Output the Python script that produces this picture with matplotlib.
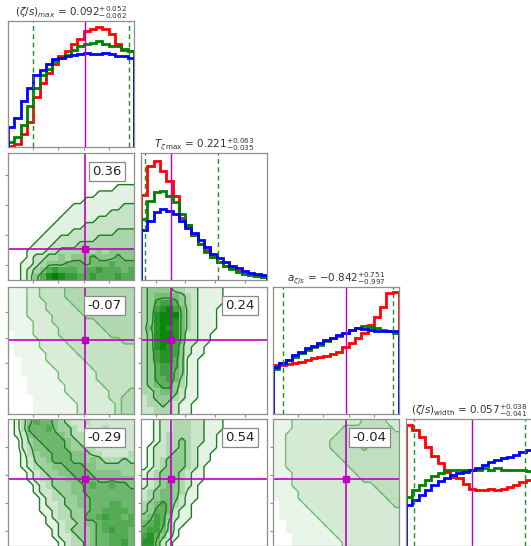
import numpy as np
import matplotlib
matplotlib.use("Agg")
import matplotlib.pyplot as plt
from matplotlib.colors import LinearSegmentedColormap

# ---------------- data ----------------
titles = [r"$(\zeta/s)_{max}$ = $0.092^{+0.052}_{-0.062}$",
          r"$T_{\zeta\,\mathrm{max}}$ = $0.221^{+0.063}_{-0.035}$",
          r"$a_{\zeta/s}$ = $-0.842^{+0.751}_{-0.997}$",
          r"$(\zeta/s)_{\mathrm{width}}$ = $0.057^{+0.038}_{-0.041}$"]
param_ranges = [(0.0, 0.15), (0.18, 0.35), (-2.0, 0.0), (0.01, 0.10)]
medians = [0.092, 0.221, -0.842, 0.057]
err_plus = [0.052, 0.063, 0.751, 0.038]
err_minus = [0.062, 0.035, 0.997, 0.041]
tick_values = [[0.03, 0.06, 0.09, 0.12],
               [0.20, 0.24, 0.28, 0.32],
               [-1.6, -1.2, -0.8, -0.4],
               [0.02, 0.04, 0.06, 0.08]]

# 1D marginal histograms (20 bins, heights as fraction of panel height)
red_zeta_max = [0.01, 0.03, 0.11, 0.20, 0.40, 0.51, 0.59, 0.66, 0.72, 0.76,
                0.82, 0.86, 0.92, 0.94, 0.955, 0.94, 0.90, 0.82, 0.77, 0.76]
green_zeta_max = [0.045, 0.08, 0.18, 0.33, 0.47, 0.57, 0.62, 0.68, 0.71, 0.73,
                  0.77, 0.80, 0.82, 0.83, 0.84, 0.82, 0.80, 0.80, 0.78, 0.76]
blue_zeta_max = [0.16, 0.23, 0.37, 0.47, 0.57, 0.61, 0.66, 0.70, 0.71, 0.72,
                 0.73, 0.74, 0.75, 0.74, 0.74, 0.75, 0.74, 0.72, 0.72, 0.71]

red_T = [0.67, 0.90, 0.94, 0.86, 0.78, 0.66, 0.49, 0.43, 0.35, 0.28,
         0.23, 0.18, 0.14, 0.11, 0.09, 0.065, 0.047, 0.034, 0.026, 0.02]
green_T = [0.48, 0.62, 0.69, 0.70, 0.66, 0.61, 0.52, 0.43, 0.35, 0.28,
           0.22, 0.18, 0.14, 0.11, 0.08, 0.06, 0.045, 0.034, 0.026, 0.02]
blue_T = [0.39, 0.46, 0.53, 0.56, 0.54, 0.52, 0.46, 0.41, 0.37, 0.31,
          0.26, 0.20, 0.17, 0.14, 0.11, 0.09, 0.07, 0.055, 0.04, 0.034]

red_a = [0.38, 0.385, 0.39, 0.40, 0.41, 0.425, 0.435, 0.445, 0.455, 0.47,
         0.49, 0.525, 0.556, 0.596, 0.635, 0.70, 0.766, 0.845, 0.95, 0.96]
green_a = [0.35, 0.40, 0.425, 0.45, 0.48, 0.50, 0.525, 0.54, 0.57, 0.596,
           0.614, 0.64, 0.66, 0.675, 0.69, 0.68, 0.675, 0.66, 0.65, 0.635]
blue_a = [0.37, 0.40, 0.425, 0.465, 0.49, 0.52, 0.535, 0.556, 0.58, 0.60,
          0.62, 0.635, 0.66, 0.675, 0.667, 0.66, 0.656, 0.656, 0.656, 0.65]

red_width = [0.95, 0.91, 0.86, 0.78, 0.71, 0.65, 0.58, 0.54, 0.53, 0.49,
             0.45, 0.44, 0.44, 0.444, 0.44, 0.45, 0.46, 0.48, 0.50, 0.52]
green_width = [0.38, 0.44, 0.476, 0.516, 0.55, 0.574, 0.595, 0.60, 0.60, 0.595,
               0.595, 0.595, 0.61, 0.60, 0.61, 0.60, 0.60, 0.595, 0.595, 0.59]
blue_width = [0.317, 0.357, 0.397, 0.437, 0.476, 0.51, 0.537, 0.556, 0.57, 0.58,
              0.595, 0.616, 0.635, 0.66, 0.675, 0.69, 0.70, 0.714, 0.74, 0.754]

hists = [(red_zeta_max, green_zeta_max, blue_zeta_max),
         (red_T, green_T, blue_T),
         (red_a, green_a, blue_a),
         (red_width, green_width, blue_width)]

# correlation coefficients of the 2D panels
correlations = {(1, 0): "0.36", (2, 0): "-0.07", (2, 1): "0.24",
                (3, 0): "-0.29", (3, 1): "0.54", (3, 2): "-0.04"}

# 2D density (20x20 bins, level 0-9), rows listed from top (high y) to bottom
dens_10 = [
    "00000000000000000000",
    "00000000000000000000",
    "00000000000000000000",
    "00000000000000000000",
    "00000000000000000000",
    "00000000000000000111",
    "00000000000000111111",
    "00000000000011111111",
    "00000000001111111122",
    "00000000011111112222",
    "00000000111111222222",
    "00000001111122222222",
    "00000011112222222333",
    "00000111222222333333",
    "00001112222333333333",
    "00011122333343434444",
    "00012233434445444544",
    "00112344455545556555",
    "00123467666566766656",
    "00124689877667666766"]
dens_20 = [
    "11122333344444444444",
    "11122333344444444444",
    "11122233334444444444",
    "11122233333444444444",
    "11122223333344444444",
    "11112223333333444444",
    "11112222333333344444",
    "01112222333333334444",
    "01111222233333333344",
    "01111222223333333333",
    "01111122222333333333",
    "00111122222233333333",
    "00111112222223333333",
    "00111111222222333333",
    "00011111222222333333",
    "00011111122222233333",
    "00011111122222223334",
    "00001111112222223344",
    "00001111111222222344",
    "00001111111222222344"]
dens_21 = [
    "34444332211110000000",
    "34555543211110000000",
    "34677643211110000000",
    "34789753211100000000",
    "34899953211100000000",
    "34899853211100000000",
    "35898853211100000000",
    "34899852211000000000",
    "34899752211000000000",
    "34898742110000000000",
    "34788742110000000000",
    "34788641100000000000",
    "34677641100000000000",
    "34677541100000000000",
    "34667531100000000000",
    "34566431100000000000",
    "33455421100000000000",
    "23444321100000000000",
    "23343211000000000000",
    "22333211000000000000"]
dens_30 = [
    "01357665432232222222",
    "01366675443222232222",
    "01256666543322222222",
    "00245666654332222222",
    "00235566654433222222",
    "00134556665543322223",
    "00124456665545433343",
    "00123445566655444444",
    "00012344556665555544",
    "00012334455666555555",
    "00001234445567667665",
    "00001223445566666666",
    "00000123344556666666",
    "00000122344556667766",
    "00000112334456677776",
    "00000012334466787767",
    "00000011233455677777",
    "00000001234445678776",
    "00000001223445667776",
    "00000000123345667786"]
dens_31 = [
    "00122333221110000000",
    "00122333221110000000",
    "00123333221100000000",
    "00123343221100000000",
    "01223343211100000000",
    "01223443211000000000",
    "01234443211000000000",
    "01234443210000000000",
    "12344432110000000000",
    "12344432110000000000",
    "12345432100000000000",
    "23455431100000000000",
    "23455421100000000000",
    "34565321000000000000",
    "34665211000000000000",
    "45764211000000000000",
    "56763110000000000000",
    "67753100000000000000",
    "78642100000000000000",
    "88521000000000000000"]
dens_32 = [
    "11122222222222333322",
    "11122222222333333332",
    "11222222223333443333",
    "11222222233334443333",
    "11222222233333433333",
    "11222222223333333333",
    "11222222222333333333",
    "11222222222233333333",
    "11122222222223333333",
    "11122222222222333333",
    "11122222222222223333",
    "11112222222222222333",
    "11112222222222222233",
    "01111222222222222223",
    "01111122222222222222",
    "01111112222222222222",
    "00111111222222222222",
    "00111111122222222222",
    "00011111112222222222",
    "00011111111222222222"]
densities = {(1, 0): dens_10, (2, 0): dens_20, (2, 1): dens_21,
             (3, 0): dens_30, (3, 1): dens_31, (3, 2): dens_32}

# ---------------- styling ----------------
contour_levels = {(1, 0): [0.5, 1.5, 2.5, 4.5], (2, 0): [1.5, 2.5, 3.5],
                  (2, 1): [0.5, 1.5, 3.5, 5.5], (3, 0): [0.5, 1.5, 3.5, 5.5],
                  (3, 1): [0.5, 1.5, 3.5, 5.5], (3, 2): [1.5, 2.5, 3.5]}
color_top = {(1, 0): 9.0, (2, 0): 13.0, (2, 1): 9.5,
             (3, 0): 10.5, (3, 1): 9.5, (3, 2): 12.0}

W, H = 531, 546
fig = plt.figure(figsize=(W / 100, H / 100), dpi=100)
col_left = [8, 141, 273, 406]
row_top = [21, 153, 287, 419]
pw, ph = 126, 126.5

spine_col = "#8f8f8f"
line_cols = ["#ff0000", "#008000", "#0000ff"]
mag = "#bf00bf"
cmap = LinearSegmentedColormap.from_list("wg", ["#ffffff", "#008000"])


def make_ax(r, c):
    ax = fig.add_axes([col_left[c] / W, 1 - (row_top[r] + ph) / H, pw / W, ph / H])
    for s in ax.spines.values():
        s.set_color(spine_col)
        s.set_linewidth(0.9)
    ax.tick_params(colors=spine_col, length=2.0, width=0.8, direction="out",
                   labelbottom=False, labelleft=False)
    return ax


for i in range(4):
    ax = make_ax(i, i)
    lo, hi = param_ranges[i]
    edges = np.linspace(lo, hi, 21)
    for vals, col in zip(hists[i], line_cols):
        ax.stairs(vals, edges, color=col, lw=2.0, baseline=0)
    ax.axvline(medians[i], color=mag, lw=1.0)
    for v in (medians[i] - err_minus[i], medians[i] + err_plus[i]):
        ax.axvline(v, color="#228b22", lw=1.0, ls=(0, (3.5, 2.5)))
    ax.set_xlim(lo, hi)
    ax.set_ylim(0, 1)
    ax.set_xticks(tick_values[i])
    ax.set_yticks([])
    ax.set_title(titles[i], fontsize=7.5, color="#333333", pad=3)

for (r, c), rows in densities.items():
    ax = make_ax(r, c)
    grid = np.array([[int(ch) for ch in row] for row in rows[::-1]], float)
    xlo, xhi = param_ranges[c]
    ylo, yhi = param_ranges[r]
    xe = np.linspace(xlo, xhi, 21)
    ye = np.linspace(ylo, yhi, 21)
    ax.pcolormesh(xe, ye, grid, cmap=cmap, vmin=0, vmax=color_top[(r, c)],
                  shading="flat")
    # contour on bin centres, padded by one bin so lines reach the frame
    gp = np.pad(grid, 1, mode="edge")
    dx, dy = xe[1] - xe[0], ye[1] - ye[0]
    xc = np.concatenate([[xe[0] - dx / 2], 0.5 * (xe[1:] + xe[:-1]), [xe[-1] + dx / 2]])
    yc = np.concatenate([[ye[0] - dy / 2], 0.5 * (ye[1:] + ye[:-1]), [ye[-1] + dy / 2]])
    faint = (r, c) in [(2, 0), (3, 2)]
    ax.contour(xc, yc, gp, levels=contour_levels[(r, c)],
               colors="#4aa84a" if faint else "#1a7f1a",
               linewidths=1.0, alpha=0.75 if faint else 1.0)
    ax.axvline(medians[c], color=mag, lw=1.2)
    ax.axhline(medians[r], color=mag, lw=1.2)
    ax.plot([medians[c]], [medians[r]], "s", color=mag, ms=4.5)
    ax.set_xlim(xlo, xhi)
    ax.set_ylim(ylo, yhi)
    ax.set_xticks(tick_values[c])
    ax.set_yticks(tick_values[r])
    ax.text(0.9, 0.905, correlations[(r, c)], transform=ax.transAxes,
            ha="right", va="top", fontsize=9.5, color="#222222",
            bbox=dict(boxstyle="square,pad=0.25", fc="white", ec="#888888", lw=0.9))

fig.savefig("out.png", dpi=100)
